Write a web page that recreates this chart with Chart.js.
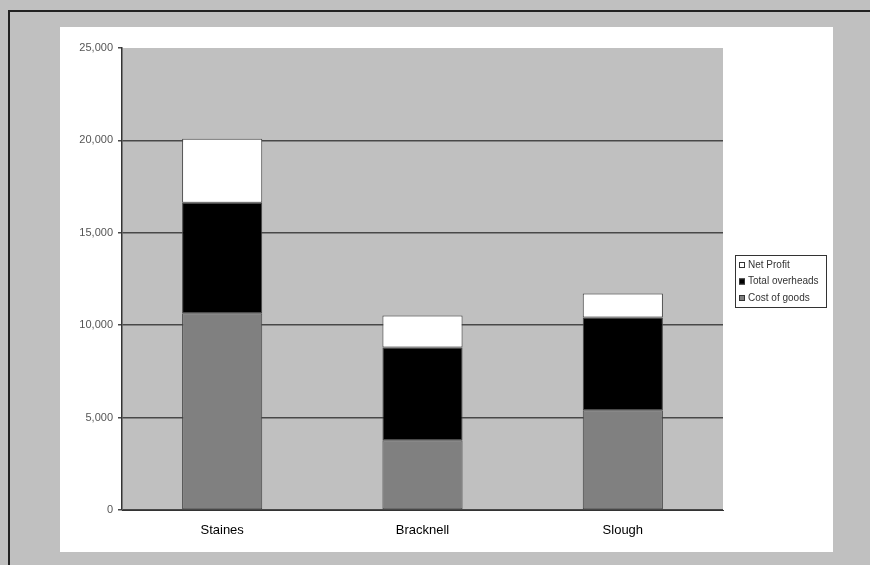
<!DOCTYPE html>
<html>
<head>
<meta charset="utf-8">
<script src="https://cdn.jsdelivr.net/npm/chart.js@4/dist/chart.umd.min.js"></script>
<style>
  html, body { margin: 0; padding: 0; background: #c0c0c0; }
  #frame {
    position: absolute; left: 8px; top: 10px; width: 870px; height: 560px;
    border-left: 2px solid #222; border-top: 2px solid #222; background: #c0c0c0;
  }
  #panel {
    position: absolute; left: 60px; top: 27px; width: 773px; height: 525px; background: #fff;
  }
  canvas { display: block; }
</style>
</head>
<body>
<div id="frame"></div>
<div id="panel"><canvas id="c" width="773" height="525"></canvas></div>
<script>
const categories = ['Staines', 'Bracknell', 'Slough'];
const costOfGoods = [10650, 3780, 5400];
const totalOverheads = [5980, 5020, 5020];
const netProfit = [3460, 1730, 1300];
const seriesNames = ['Cost of goods', 'Total overheads', 'Net Profit'];
const yMax = 25000;
const yStep = 5000;

// grey plot background behind the bars
const plotBackground = {
  id: 'plotBackground',
  beforeDraw(chart) {
    const { ctx, chartArea: a } = chart;
    ctx.save();
    ctx.fillStyle = '#c0c0c0';
    ctx.fillRect(a.left, a.top, a.right - a.left, a.bottom - a.top);
    ctx.restore();
  }
};

// boxed legend on the right, top series first
const boxLegend = {
  id: 'boxLegend',
  afterDraw(chart) {
    const { ctx } = chart;
    const x = 675, y = 228, w = 91, h = 52;
    ctx.save();
    ctx.fillStyle = '#fff';
    ctx.fillRect(x, y, w, h);
    ctx.strokeStyle = '#333';
    ctx.lineWidth = 1;
    ctx.strokeRect(x + 0.5, y + 0.5, w, h);
    ctx.font = '10px "Liberation Sans", Arial, sans-serif';
    ctx.textBaseline = 'middle';
    const ds = chart.data.datasets.slice().reverse();
    ds.forEach((d, i) => {
      const cy = y + 10 + i * 16.5;
      ctx.fillStyle = d.backgroundColor;
      ctx.fillRect(x + 4, cy - 3, 6, 6);
      ctx.strokeStyle = '#333';
      ctx.strokeRect(x + 4.5, cy - 2.5, 5, 5);
      ctx.fillStyle = '#333';
      ctx.fillText(d.label, x + 13, cy);
    });
    ctx.restore();
  }
};

new Chart(document.getElementById('c'), {
  type: 'bar',
  data: {
    labels: categories,
    datasets: [
      { label: seriesNames[0], data: costOfGoods, backgroundColor: '#808080' },
      { label: seriesNames[1], data: totalOverheads, backgroundColor: '#000000' },
      { label: seriesNames[2], data: netProfit, backgroundColor: '#ffffff' }
    ].map(d => Object.assign(d, { borderColor: '#444', borderWidth: 1, borderSkipped: false }))
  },
  options: {
    responsive: false,
    animation: false,
    devicePixelRatio: 1,
    layout: { padding: { top: 21, right: 110, bottom: 0, left: 0 } },
    datasets: { bar: { categoryPercentage: 1, barPercentage: 0.4 } },
    plugins: { legend: { display: false }, tooltip: { enabled: false } },
    scales: {
      x: {
        stacked: true,
        grid: { display: false, drawTicks: false },
        border: { color: '#333', width: 1 },
        ticks: { color: '#000', padding: 13, font: { family: '"Liberation Sans", Arial, sans-serif', size: 13 } },
        afterFit(s) { s.height = 42; }
      },
      y: {
        stacked: true,
        min: 0, max: yMax,
        ticks: {
          stepSize: yStep, padding: 5, color: '#555',
          font: { family: '"Liberation Sans", Arial, sans-serif', size: 11 },
          callback: v => v.toLocaleString('en-US')
        },
        grid: {
          color: ctx => (ctx.tick && ctx.tick.value === yMax) ? 'rgba(0,0,0,0)' : '#484848',
          lineWidth: 1.5, tickLength: 4, drawOnChartArea: true,
          tickColor: '#484848'
        },
        border: { color: '#333', width: 1.5 },
        afterFit(s) { s.width = 62; }
      }
    }
  },
  plugins: [plotBackground, boxLegend]
});
</script>
</body>
</html>
